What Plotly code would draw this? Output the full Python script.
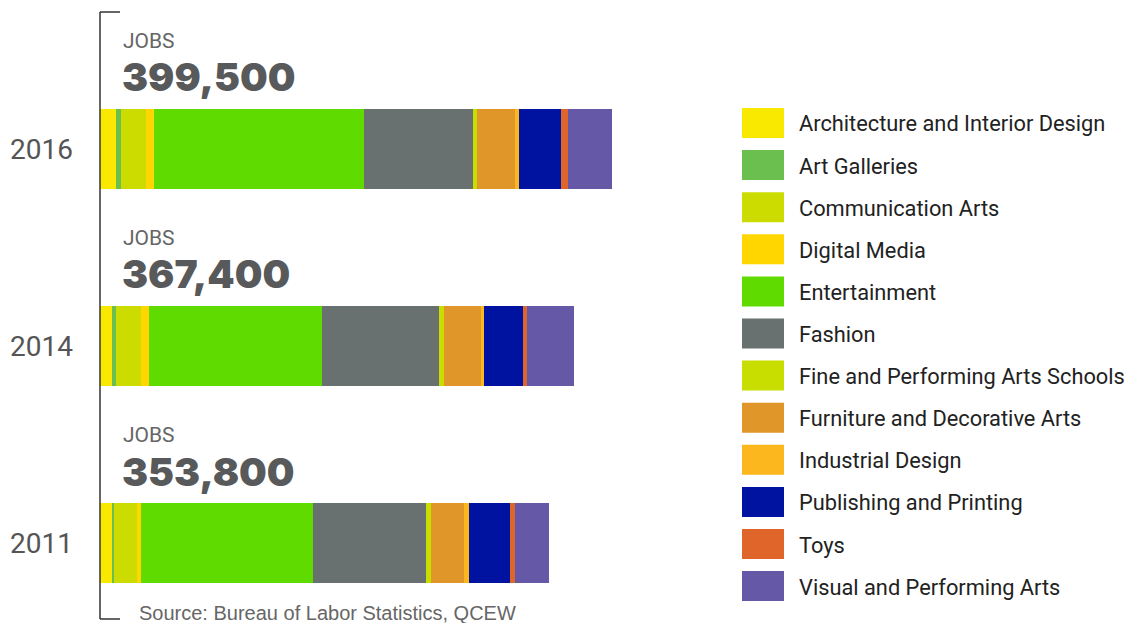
import plotly.graph_objects as go

years = ["2016", "2014", "2011"]
totals = ["399,500", "367,400", "353,800"]
sectors = [
    "Architecture and Interior Design", "Art Galleries", "Communication Arts",
    "Digital Media", "Entertainment", "Fashion", "Fine and Performing Arts Schools",
    "Furniture and Decorative Arts", "Industrial Design", "Publishing and Printing",
    "Toys", "Visual and Performing Arts",
]
colors = ["#F9E900", "#6BBF4E", "#CCDC00", "#FFD600", "#5FDB00", "#687070",
          "#C8DD00", "#E09628", "#FDB71E", "#0012A0", "#E0652A", "#6558A7"]

# jobs per sector (estimated from bar segment lengths)
jobs_2016 = [12500, 3900, 19500, 6200, 163900, 85000, 3100, 29700, 3100, 32800, 5500, 34300]
jobs_2014 = [9400, 3100, 19500, 6200, 134900, 91300, 3900, 28900, 2300, 30400, 3100, 36700]
jobs_2011 = [9400, 1600, 17900, 3100, 134200, 88100, 3900, 25700, 3900, 32000, 3900, 26500]
series = [jobs_2016, jobs_2014, jobs_2011]

W, H = 1126, 623
ML, MR = 100, 449
PW = W - ML - MR


def px_x(px):
    return (px - ML) / PW


def px_y(py):
    return 1 - py / H


cat_order = years[::-1]

fig = go.Figure()
for i, name in enumerate(sectors):
    fig.add_trace(go.Bar(
        y=years, x=[s[i] for s in series], orientation="h", name=name,
        marker=dict(color=colors[i], line=dict(width=0)),
        showlegend=False, hoverinfo="x+name",
    ))

# JOBS labels + totals (category index positions)
for y, t in zip(years, totals):
    idx = cat_order.index(y)
    fig.add_annotation(x=0, y=idx, xref="x", yref="y", text="JOBS", showarrow=False,
                       xanchor="left", yanchor="middle", xshift=21, yshift=108,
                       font=dict(family="Roboto", size=21, color="#666666"))
    fig.add_annotation(x=0, y=idx, xref="x", yref="y", text=t, showarrow=False,
                       xanchor="left", yanchor="middle", xshift=20, yshift=72,
                       font=dict(family="Inter", size=39, color="#58595B", weight=900))

# manual legend
for i, name in enumerate(sectors):
    cy = 123 + i * 42.1
    fig.add_shape(type="rect", xref="paper", yref="paper",
                  x0=px_x(742), x1=px_x(784), y0=px_y(cy - 15), y1=px_y(cy + 15),
                  fillcolor=colors[i], line=dict(width=0))
    fig.add_annotation(xref="paper", yref="paper", x=px_x(797), y=px_y(cy + 1), text=name,
                       showarrow=False, xanchor="left", yanchor="middle",
                       font=dict(family="Roboto", size=21.8, color="#222222"))

# bracket
lc = "#333333"
fig.add_shape(type="line", xref="paper", yref="paper", x0=px_x(100), x1=px_x(100),
              y0=px_y(12), y1=px_y(619), line=dict(color=lc, width=1.5))
fig.add_shape(type="line", xref="paper", yref="paper", x0=px_x(100), x1=px_x(120),
              y0=px_y(12), y1=px_y(12), line=dict(color=lc, width=1.5))
fig.add_shape(type="line", xref="paper", yref="paper", x0=px_x(100), x1=px_x(120),
              y0=px_y(619), y1=px_y(619), line=dict(color=lc, width=1.5))

fig.add_annotation(xref="paper", yref="paper", x=px_x(137), y=px_y(613),
                   text="Source: Bureau of Labor Statistics, QCEW", showarrow=False,
                   xanchor="left", yanchor="middle",
                   font=dict(family="Liberation Sans", size=20, color="#666666"))

fig.update_layout(
    width=W, height=H, barmode="stack", bargap=0.594,
    margin=dict(l=ML, r=MR, t=0, b=0),
    plot_bgcolor="white", paper_bgcolor="white",
    xaxis=dict(range=[0, 450000], visible=False),
    yaxis=dict(type="category", categoryorder="array", categoryarray=cat_order,
               range=[-0.406, 2.756], showgrid=False, zeroline=False, showline=False,
               ticks="", ticklabelstandoff=26,
               tickfont=dict(family="Roboto", size=28, color="#555555")),
)

fig.write_html("out.html")
